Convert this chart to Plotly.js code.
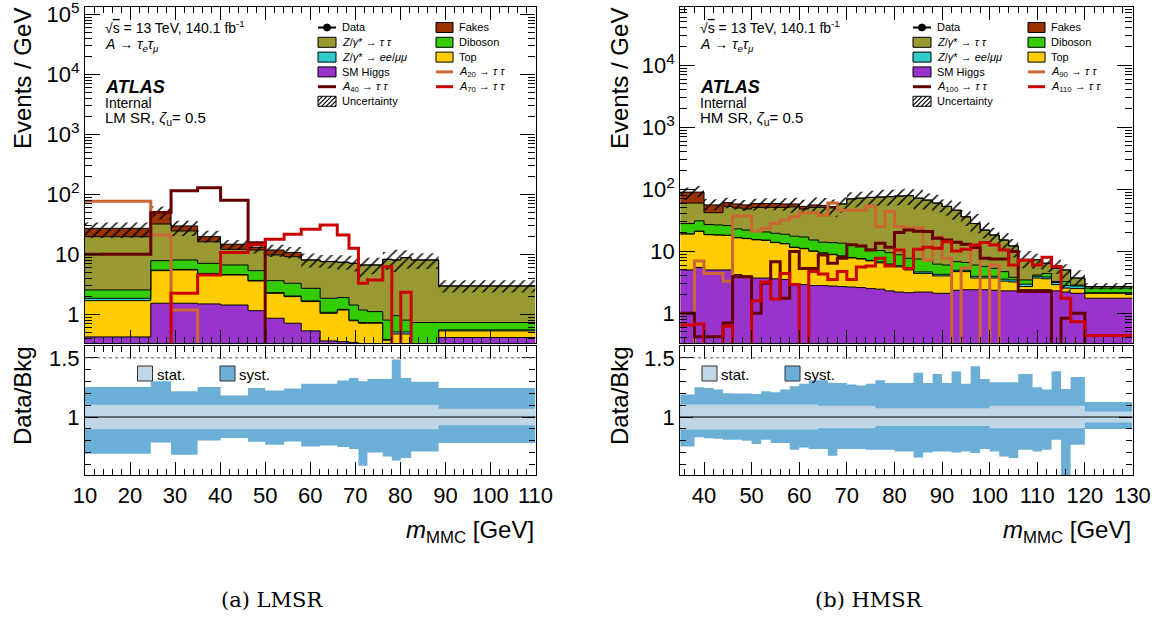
<!DOCTYPE html>
<html><head><meta charset="utf-8">
<script src="https://cdn.plot.ly/plotly-3.0.1.min.js"></script>
<style>html,body{margin:0;padding:0;background:#fff;} #chart{width:1163px;height:617px;}</style>
</head><body><div id="chart"></div>
<script>
// ---------------- LEFT (LM SR) ----------------
const leftEdges = [10, 24.6, 29.1, 35, 40.1, 46.2, 50, 54.2, 58, 62.2, 66, 68.6, 70.7, 72.7, 76.1, 78.1, 80.1, 82.4, 88.5, 110];
const leftHiggs   = [0.42,1.53,1.53,1.49,1.43,1.15,0.86,0.71,0.53,0.36,0.35,0.34,0.30,0.30,0.20,0.20,0.20,0.20,0.41];
const leftTop     = [1.27,3.81,3.95,3.20,3.09,2.44,1.38,1.26,1.10,0.68,0.83,0.44,0.41,0.41,0.17,0.27,0.27,0.05,0.12];
const leftZll     = [0.16,0.11,0.12,0.11,0.08,0.08,0.06,0.05,0.05,0.04,0.03,0.02,0.02,0.02,0.01,0.04,0.04,0.01,0.02];
const leftDiboson = [0.70,2.39,2.45,2.27,2.04,1.67,1.34,1.27,1.03,0.77,0.69,0.63,0.45,0.38,0.42,0.44,0.29,0.47,0.18];
const leftZtt     = [17.15,24.16,16.45,9.13,5.46,6.46,6.11,5.85,5.34,5.70,5.45,5.64,5.46,5.53,7.46,7.10,8.0,7.32,2.24];
const leftFakes   = [7.4,16.3,5.2,3.5,2.6,1.3,2.05,1.56,0,0.05,0.05,0.03,0.01,0.01,0,0,0,0,0];
const leftA20 = [77,21,1.18,0,0,0,0,0,0,0,0,0,0,0,0,0,0,0,0];
const leftA40 = [10,50,115,129,80,15.6,0,0,0,0,0,0,0,0,0,0,0,0,0];
const leftA70 = [0,0,2.24,4.53,10.7,14.5,17.8,21.5,26.1,30.8,21.0,12.6,3.29,3.73,6.23,0,2.33,0,0];
const leftSystUp   = [1.254,1.302,1.217,1.254,1.181,1.246,1.223,1.240,1.280,1.280,1.308,1.330,1.302,1.322,1.322,1.486,1.330,1.297,1.246];
const leftSystDown = [0.689,0.785,0.681,0.802,0.822,0.791,0.766,0.794,0.751,0.760,0.746,0.729,0.588,0.700,0.667,0.633,0.653,0.709,0.780];
const leftStat     = [0.104,0.104,0.104,0.104,0.104,0.104,0.104,0.104,0.104,0.104,0.104,0.104,0.104,0.104,0.104,0.104,0.104,0.104,0.07];

// ---------------- RIGHT (HM SR) ----------------
const rightEdges = [35,38,40,42,44,46,48,50,52,54,56,58,60,62,64,66,68,70,72,74,76,78,80,82,84,86,88,90,92,94,96,98,100,102,104,106,109,111,113,115,117,120,130];
const rightHiggs   = [5.0,5.5,5.0,5.0,5.0,4.2,4.0,3.7,3.7,3.6,3.5,3.0,2.9,2.8,2.8,2.75,2.7,2.65,2.6,2.5,2.45,2.3,2.2,2.15,2.2,2.2,2.1,2.1,2.35,2.4,2.4,2.4,2.35,2.3,2.3,2.4,2.4,2.4,2.3,2.2,2.1,1.75];
const rightTop     = [14.0,15.5,13.5,13.3,13.0,12.3,12.0,11.6,11.3,10.2,9.7,8.5,8.1,7.2,6.5,6.05,5.6,5.15,4.9,4.5,4.05,3.7,3.4,2.85,2.2,2.2,1.9,1.9,2.35,2.3,1.3,1.3,1.35,1.0,0.9,0.3,1.3,1.2,0.6,0.35,0.4,0.35];
const rightZll     = [0.15,0.15,0.15,0.15,0.15,0.15,0.15,0.15,0.15,0.15,0.15,0.15,0.15,0.15,0.15,0.15,0.15,0.15,0.15,0.15,0.25,0.25,0.25,0.25,0.25,0.25,0.25,0.25,0.25,0.25,0.25,0.25,0.25,0.25,0.25,0.25,0.25,0.25,0.25,0.25,0.25,0.05];
const rightDiboson = [8.85,9.85,8.35,8.15,7.85,6.35,5.85,5.55,5.35,5.55,5.45,5.85,5.85,5.05,4.55,4.85,5.05,4.55,4.35,3.65,3.55,3.25,2.95,2.45,2.85,2.65,1.95,1.75,1.85,1.65,2.05,1.75,1.35,1.15,0.35,0.5,0.2,0.55,0.1,0.45,0.1,0.4];
const rightZtt     = [32,29,15,15.4,27,27,26,30,30.5,31.5,32.2,34.5,31,35.8,37,36.2,44.5,57.5,60,63.2,64.7,66.5,69.2,71.3,64.5,59.7,53.8,47,39.2,29.4,22,16.3,13,10.5,8.4,3.95,3.15,2.0,2.05,1.75,0.85,0.15];
const rightFakes   = [30,30,14,14,8,8,8,8,8,8,7,6,5,5,4,3,0,0,0,0,0,0,0,0,0,0,0,0,0,0,0,0,0,0,0,0,0,0,0,0,0,0];
const rightA90  = [0,7.0,4.4,4.4,3.3,37,37,21,23.5,28,32,36,42,42,38,60,46,46,46,54,25,44,25,24,24,7.2,17,7.7,0,5.4,11,0,6.0,0,0,0,0,0,0,0,0,0];
const rightA100 = [1.0,0.42,0.42,0.42,0.7,3.9,3.9,1.0,3.05,6.8,1.75,9.9,5.3,5.3,8.7,6.4,7.7,12.7,12.2,10.5,13.5,11.6,20,22,21,20.8,16.2,15.2,14,13,11.5,7.7,7.5,7.5,9.9,2.24,2.24,2.24,0,0.83,1.0,0];
const rightA110 = [0.65,0.67,0,0,0.62,0,0,1.6,3.2,1.7,4.4,2.9,0,4.7,4.3,3.5,4.7,3.5,5.6,5.8,7.7,5.8,10.5,5.3,10.8,11.6,11.2,14.3,10.1,10.8,12.6,13.8,12.6,10.5,6.0,7.2,6.0,8.0,5.7,1.75,0.73,0.44];
const rightSystUp   = [1.19,1.251,1.245,1.232,1.20,1.198,1.198,1.195,1.218,1.209,1.232,1.26,1.282,1.311,1.311,1.29,1.288,1.274,1.266,1.282,1.311,1.288,1.288,1.288,1.373,1.288,1.364,1.288,1.384,1.28,1.429,1.322,1.294,1.294,1.294,1.364,1.251,1.232,1.387,1.237,1.339,1.127];
const rightSystDown = [0.751,0.828,0.82,0.816,0.808,0.808,0.80,0.771,0.808,0.78,0.78,0.723,0.743,0.729,0.729,0.672,0.729,0.729,0.729,0.723,0.723,0.723,0.709,0.709,0.658,0.70,0.709,0.709,0.70,0.709,0.695,0.729,0.709,0.667,0.653,0.723,0.709,0.723,0.808,0.45,0.766,0.898];
const rightStat     = [0.105,0.105,0.105,0.105,0.105,0.105,0.105,0.105,0.105,0.105,0.105,0.105,0.105,0.105,0.095,0.095,0.095,0.095,0.095,0.095,0.075,0.075,0.075,0.075,0.075,0.075,0.075,0.075,0.075,0.075,0.075,0.075,0.095,0.095,0.095,0.095,0.095,0.095,0.095,0.095,0.095,0.047];

// ---------------- styles ----------------
const COL = {higgs:'#9933cc', top:'#ffcc00', zll:'#33cccc', diboson:'#33cc00', ztt:'#999933', fakes:'#993300',
             sigOrange:'#cc6633', sigDark:'#660000', sigRed:'#cc0000', stat:'#bed6e6', syst:'#6baed6'};
const FONT = 'Liberation Sans, Arial, Helvetica, sans-serif';
const W = 1163, H = 617;
const px = v => v / W, py = v => 1 - v / H;

function stepY(vals){ const v = vals.map(a => a > 0 ? a : 1e-4); return v.concat([v[v.length-1]]); }

function panelTraces(edges, comps, sigs, systUp, systDown, stat, xa, ya, xr, yr){
  const tr = [];
  const base = {type:'scatter', mode:'lines', xaxis:xa, yaxis:ya, hoverinfo:'skip', showlegend:false};
  tr.push(Object.assign({}, base, {x:edges, y:edges.map(()=>1e-4), line:{width:0, shape:'hv'}}));
  let cum = comps[0].vals.map(()=>0);
  comps.forEach(c => {
    cum = cum.map((s,j)=>s + c.vals[j]);
    tr.push(Object.assign({}, base, {x:edges, y:stepY(cum), fill:'tonexty', fillcolor:c.color, line:{color:'black', width:1, shape:'hv'}}));
  });
  const total = cum;
  tr.push(Object.assign({}, base, {x:edges, y:stepY(total.map((t,j)=>t*systDown[j])), line:{width:0, shape:'hv'}}));
  tr.push(Object.assign({}, base, {x:edges, y:stepY(total.map((t,j)=>t*systUp[j])), fill:'tonexty', fillcolor:'rgba(0,0,0,0)',
      fillpattern:{shape:'/', fgcolor:'black', bgcolor:'rgba(0,0,0,0)', size:7, solidity:0.22}, line:{width:0, shape:'hv'}}));
  sigs.forEach(s => {
    tr.push(Object.assign({}, base, {x:edges, y:stepY(s.vals), line:{color:s.color, width:3, shape:'hv'}}));
  });
  // ratio panel
  const rb = {type:'scatter', mode:'lines', xaxis:xr, yaxis:yr, hoverinfo:'skip', showlegend:false};
  tr.push(Object.assign({}, rb, {x:edges, y:systDown.concat([systDown[systDown.length-1]]), line:{width:0, shape:'hv'}}));
  tr.push(Object.assign({}, rb, {x:edges, y:systUp.concat([systUp[systUp.length-1]]), fill:'tonexty', fillcolor:COL.syst, line:{width:0, shape:'hv'}}));
  const sl = stat.map(s=>1-s), su = stat.map(s=>1+s);
  tr.push(Object.assign({}, rb, {x:edges, y:sl.concat([sl[sl.length-1]]), line:{width:0, shape:'hv'}}));
  tr.push(Object.assign({}, rb, {x:edges, y:su.concat([su[su.length-1]]), fill:'tonexty', fillcolor:COL.stat, line:{width:0, shape:'hv'}}));
  return tr;
}

const leftComps = [
  {vals:leftHiggs, color:COL.higgs}, {vals:leftTop, color:COL.top}, {vals:leftZll, color:COL.zll},
  {vals:leftDiboson, color:COL.diboson}, {vals:leftZtt, color:COL.ztt}, {vals:leftFakes, color:COL.fakes}];
const rightComps = [
  {vals:rightHiggs, color:COL.higgs}, {vals:rightTop, color:COL.top}, {vals:rightZll, color:COL.zll},
  {vals:rightDiboson, color:COL.diboson}, {vals:rightZtt, color:COL.ztt}, {vals:rightFakes, color:COL.fakes}];

const traces = []
  .concat(panelTraces(leftEdges, leftComps,
     [{vals:leftA20, color:COL.sigOrange}, {vals:leftA40, color:COL.sigDark}, {vals:leftA70, color:COL.sigRed}],
     leftSystUp, leftSystDown, leftStat, 'x', 'y', 'x2', 'y2'))
  .concat(panelTraces(rightEdges, rightComps,
     [{vals:rightA90, color:COL.sigOrange}, {vals:rightA100, color:COL.sigDark}, {vals:rightA110, color:COL.sigRed}],
     rightSystUp, rightSystDown, rightStat, 'x3', 'y3', 'x4', 'y4'));

// ---------------- axes ----------------
const tickFont = {family:FONT, size:22, color:'black'};
function xAx(domain, range, anchor, labels){
  return {domain, range, anchor, tickmode:'linear', tick0:0, dtick:10, ticks:'inside', ticklen:13, tickwidth:1, tickcolor:'black',
    minor:{ticks:'inside', ticklen:6, tickwidth:1, tickcolor:'black', tickmode:'linear', tick0:0, dtick:2, showgrid:false},
    showline:true, linecolor:'black', linewidth:1.2, mirror:'allticks', showgrid:false, zeroline:false,
    showticklabels:labels, tickfont:tickFont, ticklabeloverflow:'allow', fixedrange:true};
}
const logVals = [1,10,100,1000,1e4,1e5];
const logText = ['1','10','10<sup>2</sup>','10<sup>3</sup>','10<sup>4</sup>','10<sup>5</sup>'];
const minorLog = [];
for (let d=-1; d<=5; d++) for (let m=2; m<=9; m++) minorLog.push(m*Math.pow(10,d));
function yLog(domain, range, anchor){
  return {domain, range, anchor, type:'log', tickmode:'array', tickvals:logVals, ticktext:logText,
    ticks:'inside', ticklen:15, tickwidth:1, tickcolor:'black',
    minor:{ticks:'inside', ticklen:7, tickwidth:1, tickcolor:'black', tickmode:'array', tickvals:minorLog, showgrid:false},
    showline:true, linecolor:'black', linewidth:1.2, mirror:'allticks', showgrid:false, zeroline:false,
    tickfont:tickFont, ticklabeloverflow:'allow', fixedrange:true};
}
function yRatio(domain, anchor){
  return {domain, range:[0.51,1.60], anchor, tickmode:'array', tickvals:[1,1.5], ticktext:['1','1.5'],
    ticks:'inside', ticklen:13, tickwidth:1, tickcolor:'black',
    minor:{ticks:'inside', ticklen:6, tickwidth:1, tickcolor:'black', tickmode:'linear', tick0:0.5, dtick:0.1, showgrid:false},
    showline:true, linecolor:'black', linewidth:1.2, mirror:'allticks', showgrid:false, zeroline:false,
    tickfont:tickFont, ticklabeloverflow:'allow', fixedrange:true};
}
const xL = [px(85), px(535.5)], xR = [px(680.2), px(1132.5)];
const yT = [py(343.3), py(7)], yB = [py(475), py(346)];

// ---------------- annotations & legend ----------------
const ann = [];
const shapes = [];
function txt(x, y, text, size, opts){
  ann.push(Object.assign({xref:'paper', yref:'paper', x:px(x), y:py(y), text, showarrow:false,
    xanchor:'left', yanchor:'middle', font:{family:FONT, size:size, color:'black'}}, opts||{}));
}
function box(x0, x1, yc, color){
  shapes.push({type:'rect', xref:'paper', yref:'paper', x0:px(x0), x1:px(x1), y0:py(yc+5), y1:py(yc-5),
    fillcolor:color, line:{color:'black', width:1}});
}
function lineSym(x0, x1, yc, color){
  shapes.push({type:'line', xref:'paper', yref:'paper', x0:px(x0), x1:px(x1), y0:py(yc), y1:py(yc), line:{color, width:3}});
}
function dataSym(x0, x1, yc){
  shapes.push({type:'line', xref:'paper', yref:'paper', x0:px(x0), x1:px(x1), y0:py(yc), y1:py(yc), line:{color:'black', width:2}});
  const xc = (x0+x1)/2;
  shapes.push({type:'circle', xref:'paper', yref:'paper', x0:px(xc-3.5), x1:px(xc+3.5), y0:py(yc+3.5), y1:py(yc-3.5),
    fillcolor:'black', line:{color:'black', width:1}});
}
function hatchSym(x0, x1, yc){
  shapes.push({type:'rect', xref:'paper', yref:'paper', x0:px(x0), x1:px(x1), y0:py(yc+5), y1:py(yc-5),
    fillcolor:'white', line:{color:'black', width:1}});
  let p = '';
  for (let k=-10; k<(x1-x0); k+=4.5){
    let a = x0 + k, b = a + 10;
    let ya = yc+5, yb = yc-5;
    let ax = a, ay = ya, bx = b, by = yb;
    if (ax < x0){ ay = ya - (x0-ax); ax = x0; }
    if (bx > x1){ by = yb + (bx-x1); bx = x1; }
    if (bx - ax > 0.5) p += `M${px(ax)},${py(ay)} L${px(bx)},${py(by)} `;
  }
  shapes.push({type:'path', xref:'paper', yref:'paper', path:p, line:{color:'black', width:1.2}});
}

function panelLabels(x0, region, sigNames, c1, c2){
  txt(x0, 27, '√<span style="text-decoration:overline">s</span> = 13 TeV, 140.1 fb<sup>-1</sup>', 14);
  txt(x0, 45, '<i>A</i> → <i>τ</i><sub><i>e</i></sub><i>τ</i><sub><i>μ</i></sub>', 14);
  txt(x0, 87, '<b><i>ATLAS</i></b>', 18);
  txt(x0, 103, 'Internal', 14);
  txt(x0, 119, region + ', <i>ζ</i><sub>u</sub>= 0.5', 15);
  const rows = [27.5, 42.3, 57.1, 71.9, 86.7, 101.3];
  const s1 = c1, t1 = c1 + 22, s2 = c2, t2 = c2 + 21;
  const lf = 11;
  dataSym(s1, s1+18, rows[0]); txt(t1, rows[0], 'Data', lf);
  box(s1, s1+18, rows[1], COL.ztt); txt(t1, rows[1], '<i>Z</i>/<i>γ</i>* → <i>τ τ</i>', lf);
  box(s1, s1+18, rows[2], COL.zll); txt(t1, rows[2], '<i>Z</i>/<i>γ</i>* → <i>ee</i>/<i>μμ</i>', lf);
  box(s1, s1+18, rows[3], COL.higgs); txt(t1, rows[3], 'SM Higgs', lf);
  lineSym(s1, s1+18, rows[4], COL.sigDark); txt(t1, rows[4], '<i>A</i><sub>'+sigNames[1]+'</sub> → <i>τ τ</i>', lf);
  hatchSym(s1, s1+18, rows[5]); txt(t1, rows[5], 'Uncertainty', lf);
  box(s2, s2+17, rows[0], COL.fakes); txt(t2, rows[0], 'Fakes', lf);
  box(s2, s2+17, rows[1], COL.diboson); txt(t2, rows[1], 'Diboson', lf);
  box(s2, s2+17, rows[2], COL.top); txt(t2, rows[2], 'Top', lf);
  lineSym(s2, s2+17, rows[3], COL.sigOrange); txt(t2, rows[3], '<i>A</i><sub>'+sigNames[0]+'</sub> → <i>τ τ</i>', lf);
  lineSym(s2, s2+17, rows[4], COL.sigRed); txt(t2, rows[4], '<i>A</i><sub>'+sigNames[2]+'</sub> → <i>τ τ</i>', lf);
}
panelLabels(103, 'LM SR', ['20','40','70'], 318, 436);
panelLabels(698, 'HM SR', ['90','100','110'], 913, 1028);

// ratio legends
function ratioLegend(sx, tx){
  shapes.push({type:'rect', xref:'paper', yref:'paper', x0:px(sx), x1:px(sx+15), y0:py(381), y1:py(366), fillcolor:COL.stat, line:{color:'#333', width:1}});
  txt(sx+17, 374, 'stat.', 15);
  shapes.push({type:'rect', xref:'paper', yref:'paper', x0:px(tx), x1:px(tx+15), y0:py(381), y1:py(366), fillcolor:COL.syst, line:{color:'#333', width:1}});
  txt(tx+17, 374, 'syst.', 15);
}
ratioLegend(137.5, 220);
ratioLegend(702, 785);

// reference lines in ratio panels
[['x2','y2'],['x4','y4']].forEach(([xa,ya])=>{
  shapes.push({type:'line', xref:xa+' domain', yref:ya, x0:0, x1:1, y0:1, y1:1, line:{color:'black', width:1}, layer:'above'});
  shapes.push({type:'line', xref:xa+' domain', yref:ya, x0:0, x1:1, y0:1.5, y1:1.5, line:{color:'#555', width:1, dash:'dot'}, layer:'above'});
});

// axis titles
const tf = 24;
function big(x, y, text, opts){
  ann.push(Object.assign({xref:'paper', yref:'paper', x:px(x), y:py(y), text, showarrow:false, xanchor:'center', yanchor:'middle',
    font:{family:FONT, size:tf, color:'black'}}, opts||{}));
}
big(22, 79, 'Events / GeV', {textangle:-90});
big(619, 79, 'Events / GeV', {textangle:-90});
big(22, 396, 'Data/Bkg', {textangle:-90});
big(619, 396, 'Data/Bkg', {textangle:-90});
big(536, 531, '<i>m</i><sub>MMC</sub> [GeV]', {xanchor:'right'});
big(1133, 531, '<i>m</i><sub>MMC</sub> [GeV]', {xanchor:'right'});
// captions
big(272, 600, '(a) LMSR', {font:{family:'DejaVu Serif, serif', size:21, color:'black'}});
big(869, 600, '(b) HMSR', {font:{family:'DejaVu Serif, serif', size:21, color:'black'}});

const layout = {
  width:W, height:H, margin:{l:0, r:0, t:0, b:0}, paper_bgcolor:'white', plot_bgcolor:'white', showlegend:false,
  font:{family:FONT, size:14, color:'black'},
  xaxis: xAx(xL, [10,110], 'y', false),
  yaxis: yLog(yT, [-0.483, 5.122], 'x'),
  xaxis2: xAx(xL, [10,110], 'y2', true),
  yaxis2: yRatio(yB, 'x2'),
  xaxis3: xAx(xR, [35,130], 'y3', false),
  yaxis3: yLog(yT, [-0.484, 4.94], 'x3'),
  xaxis4: xAx(xR, [35,130], 'y4', true),
  yaxis4: yRatio(yB, 'x4'),
  annotations: ann, shapes: shapes
};
Plotly.newPlot('chart', traces, layout, {displayModeBar:false});
</script></body></html>
